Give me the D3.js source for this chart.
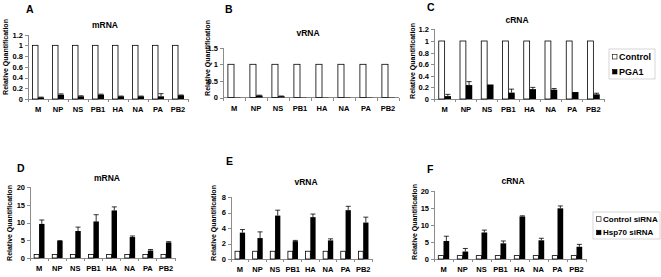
<!DOCTYPE html>
<html>
<head>
<meta charset="utf-8">
<script src="https://cdn.jsdelivr.net/npm/d3@7/dist/d3.min.js"></script>
<style>
  body { margin: 0; background: #fff; }
  svg text { font-family: "Liberation Sans", Arial, sans-serif; font-weight: bold; fill: #000; }
  .axis path, .axis line { stroke: #8c8c8c; shape-rendering: crispEdges; }
  .axis text { font-size: 7.5px; }
</style>
</head>
<body>
<svg id="chart" width="661" height="277"></svg>
<script>
// data
var genes = ['M', 'NP', 'NS', 'PB1', 'HA', 'NA', 'PA', 'PB2'];
var pgaSeries = ['Control', 'PGA1'];
var sirnaSeries = ['Control siRNA', 'Hsp70 siRNA'];
var controlValues = [1, 1, 1, 1, 1, 1, 1, 1];

var mrnaPGA1 = [0.03, 0.08, 0.05, 0.08, 0.05, 0.05, 0.05, 0.07];
var mrnaPGA1Err = [0.005, 0.015, 0.01, 0.01, 0.005, 0.005, 0.05, 0.005];
var vrnaPGA1 = [0.01, 0.06, 0.04, 0.01, 0.01, 0.01, 0.01, 0.01];
var vrnaPGA1Err = [0, 0.01, 0.005, 0, 0, 0, 0, 0];
var crnaPGA1 = [0.05, 0.24, 0.25, 0.11, 0.17, 0.16, 0.12, 0.08];
var crnaPGA1Err = [0.03, 0.06, 0, 0.06, 0.03, 0.02, 0, 0.02];

var mrnaHsp = [9.6, 4.8, 7.6, 10.3, 13.4, 5.9, 2.1, 4.4];
var mrnaHspErr = [1.1, 0.1, 1.1, 1.9, 1.0, 0.3, 0.3, 0.2];
var vrnaHsp = [3.4, 2.7, 5.6, 2.3, 5.4, 2.4, 6.3, 4.7];
var vrnaHspErr = [0.4, 0.8, 0.7, 0.1, 0.4, 0.2, 0.5, 0.7];
var crnaHsp = [5.3, 2.2, 7.8, 4.6, 12.5, 5.5, 14.9, 3.6];
var crnaHspErr = [1.4, 0.9, 0.7, 0.7, 0.2, 0.6, 0.7, 0.7];

var ticks12 = [0, 0.2, 0.4, 0.6, 0.8, 1, 1.2];
var ticks15 = [0, 0.5, 1, 1.5];
var ticks20 = [0, 5, 10, 15, 20];
var ticks8 = [0, 2, 4, 6, 8];

// layout of the six panels
var panels = [
  { letter: 'A', title: 'mRNA', vals: mrnaPGA1, errs: mrnaPGA1Err, ticks: ticks12, max: 1.2,
    x: [28, 188], y: [99, 34.6], lx: 26, ly: 13, tx: 105, ty: 28, yl: [6, 57] },
  { letter: 'B', title: 'vRNA', vals: vrnaPGA1, errs: vrnaPGA1Err, ticks: ticks15, max: 1.5,
    x: [223, 399], y: [97.5, 47.7], lx: 225, ly: 13, tx: 308, ty: 36, yl: [208, 58] },
  { letter: 'C', title: 'cRNA', vals: crnaPGA1, errs: crnaPGA1Err, ticks: ticks12, max: 1.2,
    x: [434, 604], y: [99, 29.4], lx: 427, ly: 11, tx: 517, ty: 23, yl: [413, 61],
    legend: { names: pgaSeries, x: 609, y: 49, w: 46, h: 30, fs: 9 } },
  { letter: 'D', title: 'mRNA', vals: mrnaHsp, errs: mrnaHspErr, ticks: ticks20, max: 20,
    x: [30, 175], y: [258, 187], lx: 17, ly: 172, tx: 107, ty: 181, yl: [10, 223] },
  { letter: 'E', title: 'vRNA', vals: vrnaHsp, errs: vrnaHspErr, ticks: ticks8, max: 8,
    x: [231, 372], y: [259, 197], lx: 226, ly: 165, tx: 306, ty: 185, yl: [214, 223] },
  { letter: 'F', title: 'cRNA', vals: crnaHsp, errs: crnaHspErr, ticks: ticks20, max: 20,
    x: [434, 586], y: [259, 191], lx: 427, ly: 173, tx: 513, ty: 184, yl: [415, 222],
    legend: { names: sirnaSeries, x: 593, y: 212, w: 67, h: 27, fs: 8 } }
];

var svg = d3.select('#chart');

panels.forEach(function (p) {
  var g = svg.append('g');

  var x0 = d3.scaleBand().domain(genes).range(p.x).paddingInner(0.4).paddingOuter(0.2);
  var x1 = d3.scaleBand().domain([0, 1]).range([0, x0.bandwidth()]);
  var y = d3.scaleLinear().domain([0, p.max]).range(p.y);

  // y axis
  g.append('g')
    .attr('class', 'axis')
    .attr('transform', 'translate(' + p.x[0] + ',0)')
    .call(d3.axisLeft(y).tickValues(p.ticks).tickSize(3).tickPadding(2).tickFormat(d3.format('')));

  // x axis: line plus ticks between categories
  var xa = g.append('g').attr('class', 'axis');
  xa.append('line')
    .attr('x1', p.x[0]).attr('x2', p.x[1])
    .attr('y1', y(0)).attr('y2', y(0));
  var step = x0.step();
  xa.selectAll('.sep')
    .data(d3.range(genes.length + 1))
    .enter().append('line')
    .attr('x1', i => p.x[0] + i * step).attr('x2', i => p.x[0] + i * step)
    .attr('y1', y(0)).attr('y2', y(0) + 3);
  xa.selectAll('.lab')
    .data(genes)
    .enter().append('text')
    .attr('x', d => x0(d) + x0.bandwidth() / 2)
    .attr('y', y(0) + 13)
    .attr('text-anchor', 'middle')
    .text(d => d);

  // control bars
  g.selectAll('.ctrl')
    .data(controlValues)
    .enter().append('rect')
    .attr('x', (d, i) => x0(genes[i]) + x1(0) + 0.5)
    .attr('y', d => y(d))
    .attr('width', x1.bandwidth() - 0.5)
    .attr('height', d => y(0) - y(d))
    .attr('fill', '#fff')
    .attr('stroke', '#000')
    .attr('stroke-width', 0.8);

  // treatment bars
  g.selectAll('.trt')
    .data(p.vals)
    .enter().append('rect')
    .attr('x', (d, i) => x0(genes[i]) + x1(1))
    .attr('y', d => y(d))
    .attr('width', x1.bandwidth())
    .attr('height', d => y(0) - y(d))
    .attr('fill', '#000');

  // error bars (upper only)
  p.vals.forEach(function (v, i) {
    if (!p.errs[i]) return;
    var cx = x0(genes[i]) + x1(1) + x1.bandwidth() / 2;
    var top = y(v + p.errs[i]);
    g.append('line').attr('x1', cx).attr('x2', cx).attr('y1', y(v)).attr('y2', top)
      .attr('stroke', '#000').attr('stroke-width', 0.8);
    g.append('line').attr('x1', cx - 2.5).attr('x2', cx + 2.5).attr('y1', top).attr('y2', top)
      .attr('stroke', '#000').attr('stroke-width', 0.8);
  });

  // titles
  g.append('text').attr('x', p.lx).attr('y', p.ly).style('font-size', '10.5px').text(p.letter);
  g.append('text').attr('x', p.tx).attr('y', p.ty).attr('text-anchor', 'middle')
    .style('font-size', '8.5px').text(p.title);
  g.append('text')
    .attr('transform', 'translate(' + p.yl[0] + ',' + p.yl[1] + ') rotate(-90)')
    .attr('text-anchor', 'middle')
    .attr('dy', '0.35em')
    .style('font-size', '7px')
    .text('Relative Quantification');

  // legend
  if (p.legend) {
    var L = p.legend;
    var lg = g.append('g').attr('transform', 'translate(' + L.x + ',' + L.y + ')');
    lg.append('rect').attr('width', L.w).attr('height', L.h)
      .attr('fill', '#fff').attr('stroke', '#bbb').attr('stroke-width', 0.6);
    L.names.forEach(function (name, i) {
      var yy = L.h / 4 + i * L.h / 2;
      lg.append('rect').attr('x', 3.5).attr('y', yy - 2).attr('width', 4.5).attr('height', 4.5)
        .attr('fill', i === 0 ? '#fff' : '#000').attr('stroke', '#000').attr('stroke-width', 0.6);
      lg.append('text').attr('x', 10).attr('y', yy).attr('dy', '0.35em')
        .style('font-size', L.fs + 'px').text(name);
    });
  }
});
</script>
</body>
</html>
